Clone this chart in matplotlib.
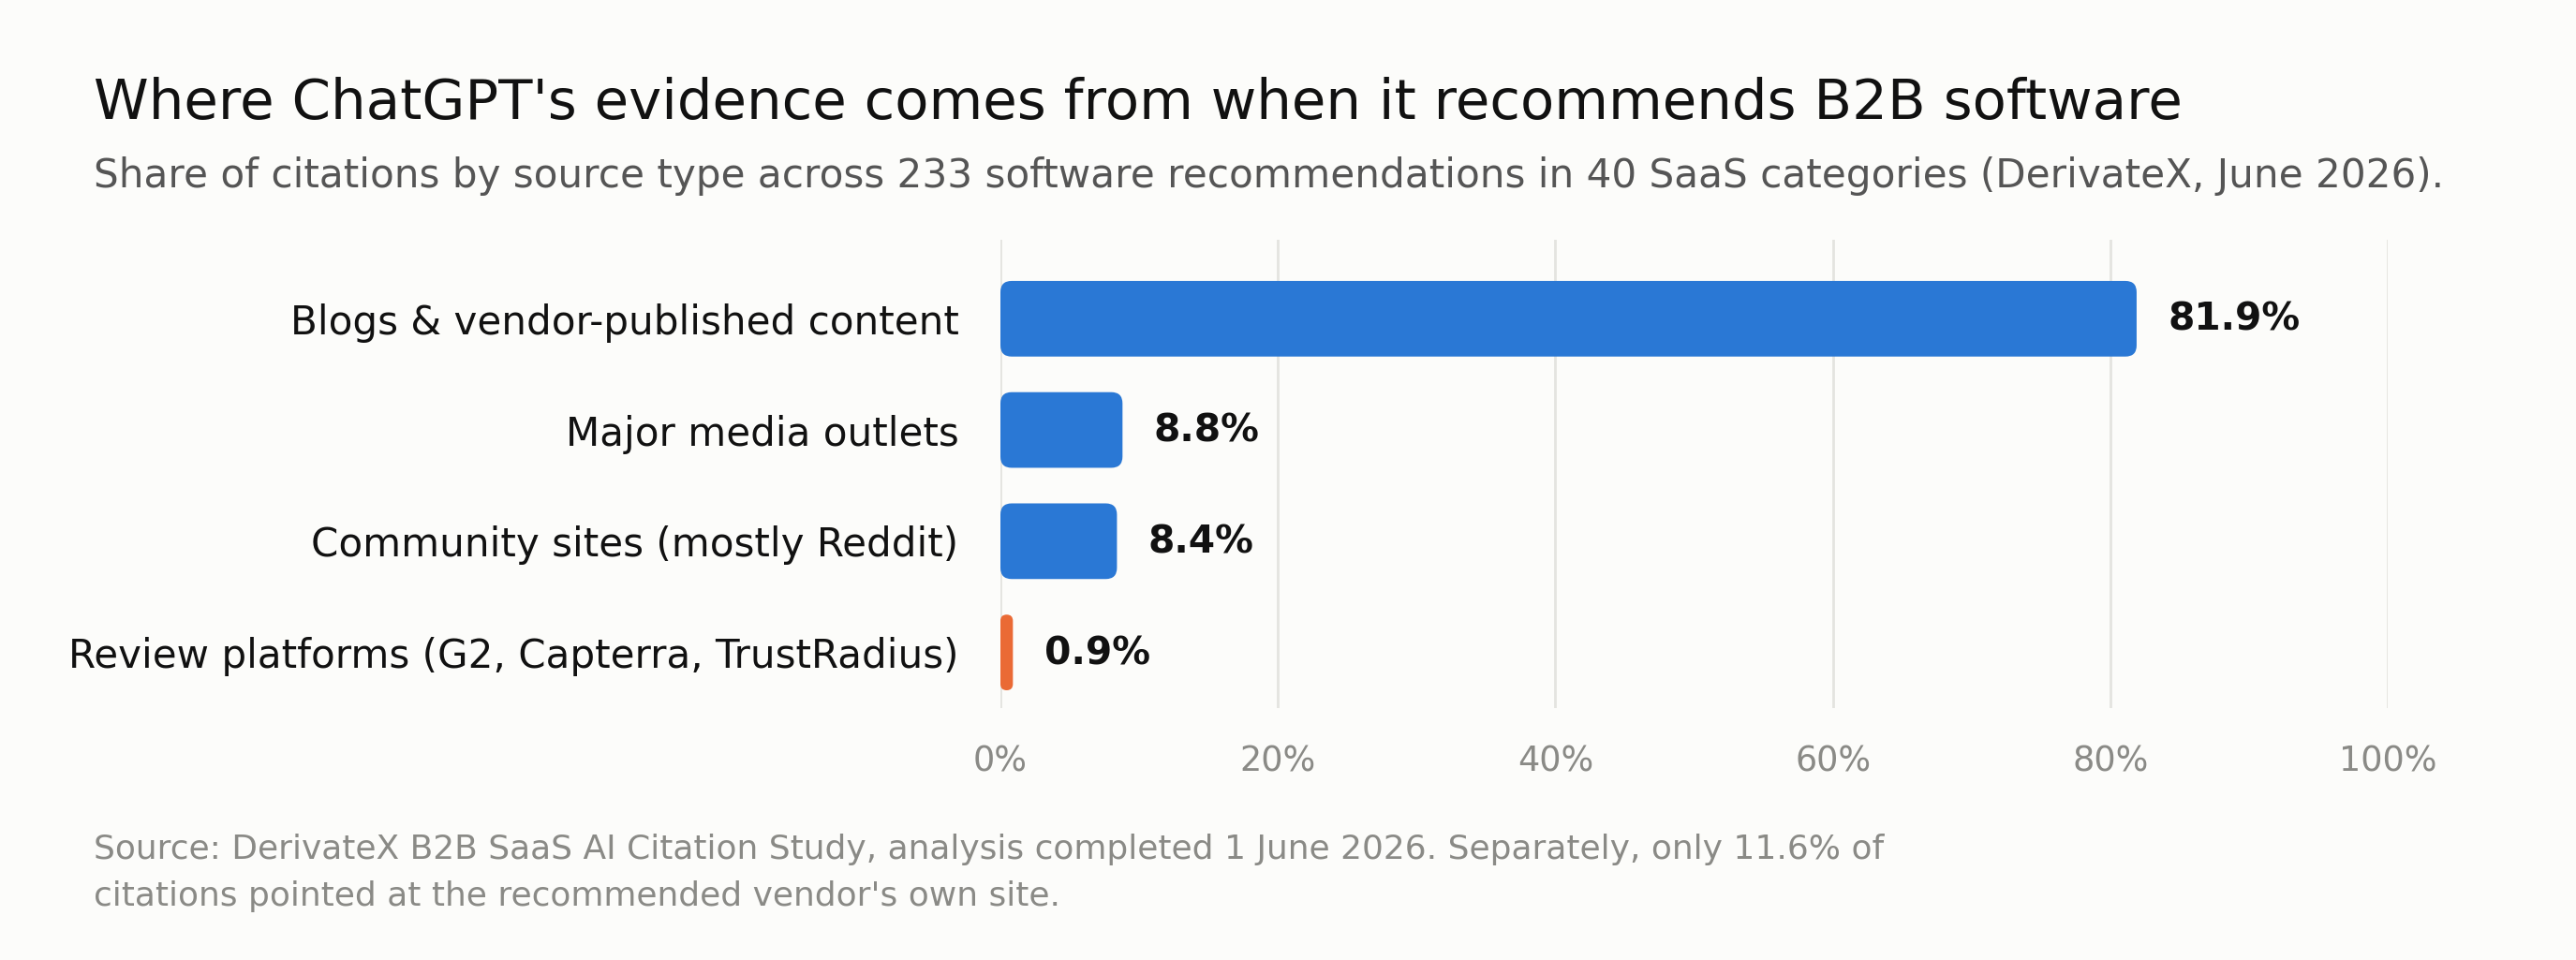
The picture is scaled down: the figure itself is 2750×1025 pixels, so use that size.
import matplotlib
matplotlib.use("Agg")
from matplotlib import pyplot as plt
from matplotlib.patches import FancyBboxPatch
from matplotlib.ticker import FuncFormatter

# data
categories = [
    "Blogs & vendor-published content",
    "Major media outlets",
    "Community sites (mostly Reddit)",
    "Review platforms (G2, Capterra, TrustRadius)",
]
shares = [81.9, 8.8, 8.4, 0.9]
highlight = [False, False, False, True]
x_ticks = [0, 20, 40, 60, 80, 100]

title = "Where ChatGPT's evidence comes from when it recommends B2B software"
subtitle = ("Share of citations by source type across 233 software recommendations "
            "in 40 SaaS categories (DerivateX, June 2026).")
footer = ("Source: DerivateX B2B SaaS AI Citation Study, analysis completed 1 June 2026. "
          "Separately, only 11.6% of\ncitations pointed at the recommended vendor's own site.")

BG = "#fcfcfa"
BLUE = "#2a78d5"
ORANGE = "#ea6a35"
GRID = "#e4e4e0"

W, H = 2750, 1025
fig = plt.figure(figsize=(W / 200, H / 200), dpi=200, facecolor=BG)
ax = fig.add_axes([1068 / W, 269 / H, 1481 / W, 500 / H])
ax.set_facecolor(BG)

bar_h = 0.68
ax.set_xlim(0, 100)
ax.set_ylim(len(categories) - 0.5, -0.71)

# pixel scales so the rounded corners come out circular
px_per_x = 1481 / 100
px_per_y = 500 / (len(categories) - 0.5 + 0.71)
radius_px = 12

for i, (val, hl) in enumerate(zip(shares, highlight)):
    w_px = val * px_per_x
    r_px = min(radius_px, w_px / 2)
    r_x = r_px / px_per_x
    patch = FancyBboxPatch(
        (0, i - bar_h / 2), val, bar_h,
        boxstyle="round,pad=0,rounding_size={}".format(r_x),
        mutation_aspect=px_per_x / px_per_y,
        facecolor=ORANGE if hl else BLUE, edgecolor="none", zorder=3)
    ax.add_patch(patch)
    ax.annotate("{:.1f}%".format(val), (val, i), xytext=(12, -0.6),
                textcoords="offset points", va="center", ha="left",
                fontsize=14.7, fontweight="bold", color="#111111")

ax.set_yticks(range(len(categories)))
ax.set_yticklabels(categories, fontsize=15.15, color="#111111")
ax.set_xticks(x_ticks)
ax.xaxis.set_major_formatter(FuncFormatter(lambda v, p: "{:.0f}%".format(v)))
ax.tick_params(axis="x", length=0, pad=14, labelsize=13.2, labelcolor="#8a8a86")
ax.tick_params(axis="y", length=0, pad=16)
ax.grid(axis="x", color=GRID, linewidth=1.0, zorder=0)
ax.set_axisbelow(True)
for side in ax.spines.values():
    side.set_visible(False)

fig.text(100 / W, 1 - 110 / H, title, fontsize=21.4, color="#111111", va="center", ha="left")
fig.text(100 / W, 1 - 188 / H, subtitle, fontsize=15.17, color="#555555", va="center", ha="left")
fig.text(100 / W, 1 - 932 / H, footer, fontsize=12.95, color="#8a8a86", va="center", ha="left",
         linespacing=1.6)

fig.savefig("out.png", dpi=200, facecolor=BG)
